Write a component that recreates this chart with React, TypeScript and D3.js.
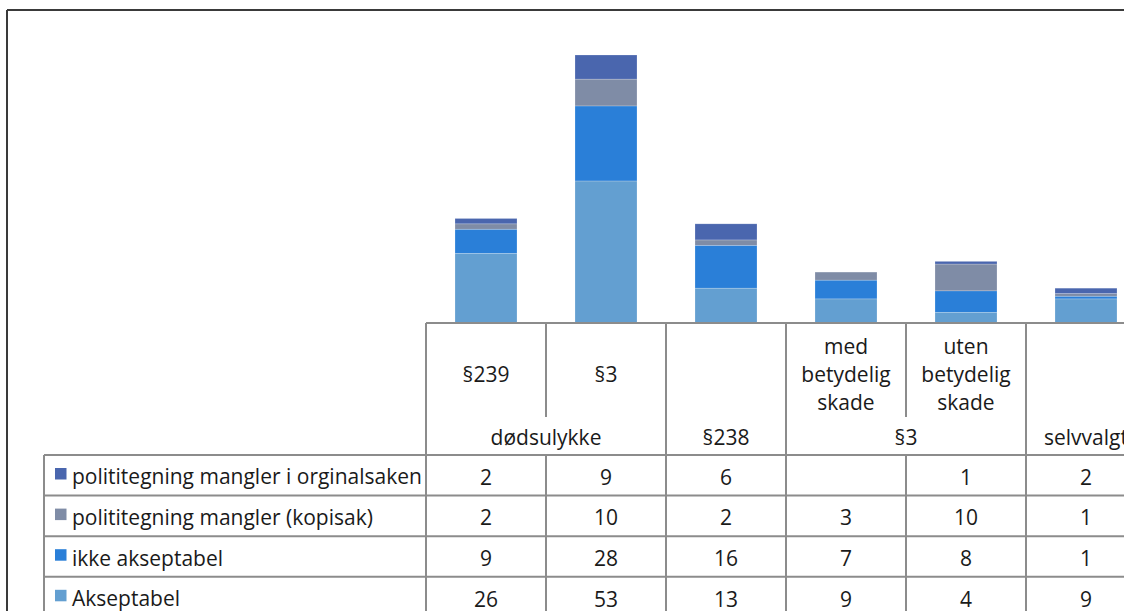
import React from "react";
import * as d3 from "d3";

const categories = ["§239", "§3 dødsulykke", "§238", "med betydelig skade", "uten betydelig skade", "selvvalgt"];
const subLabels: string[][] = [["§239"], ["§3"], [], ["med", "betydelig", "skade"], ["uten", "betydelig", "skade"], []];
const groupLabels = ["dødsulykke", "§238", "§3", "selvvalgt"];
const groupSpans = [2, 1, 2, 1];

const seriesNames = [
  "polititegning mangler i orginalsaken",
  "polititegning mangler (kopisak)",
  "ikke akseptabel",
  "Akseptabel",
];
const orginalsaken: (number | null)[] = [2, 9, 6, null, 1, 2];
const kopisak: (number | null)[] = [2, 10, 2, 3, 10, 1];
const ikkeAkseptabel: (number | null)[] = [9, 28, 16, 7, 8, 1];
const akseptabel: (number | null)[] = [26, 53, 13, 9, 4, 9];
const seriesColors = ["#4a66ae", "#7f8ca6", "#2a7fd8", "#639fd1"];

const W = 1124;
const H = 611;
const FONT = "'Open Sans', sans-serif";
const FS = 21;

export default function App() {
  const seriesValues = [orginalsaken, kopisak, ikkeAkseptabel, akseptabel];
  const keys = ["s0", "s1", "s2", "s3"];
  const rows = categories.map((c, i) => {
    const o: any = { cat: c };
    keys.forEach((k, j) => (o[k] = seriesValues[j][i] ?? 0));
    return o;
  });
  // stack bottom -> top: Akseptabel, ikke akseptabel, kopisak, orginalsaken
  const stackOrder = ["s3", "s2", "s1", "s0"];
  const stacked = d3.stack<any>().keys(stackOrder)(rows);

  const colX0 = 426;
  const colW = 120;
  const x = d3
    .scaleBand<string>()
    .domain(categories)
    .range([colX0, colX0 + colW * categories.length])
    .padding(0);
  const baseY = 323;
  const y = d3.scaleLinear().domain([0, 100]).range([baseY, 55]);
  const barW = 62;

  const headerBottom = 455;
  const subBottom = 417;
  const rowH = 40.6;
  const legendX0 = 44;
  const rightEdge = colX0 + colW * categories.length;
  const grid = "#8c8c8c";
  const gw = 2;

  const groupBounds: { x0: number; x1: number; label: string }[] = [];
  let idx = 0;
  groupLabels.forEach((g, gi) => {
    const x0 = x(categories[idx])!;
    const x1 = x(categories[idx + groupSpans[gi] - 1])! + x.bandwidth();
    groupBounds.push({ x0, x1, label: g });
    idx += groupSpans[gi];
  });

  return (
    <svg
      width={W}
      height={H}
      style={{ position: "absolute", left: 0, top: 0, overflow: "hidden", background: "#fff" }}
    >
      <rect x={0} y={0} width={W} height={H} fill="#fff" />
      <line x1={7} y1={10} x2={W + 10} y2={10} stroke="#3a3a3a" strokeWidth={2} />
      <line x1={7} y1={10} x2={7} y2={H + 10} stroke="#3a3a3a" strokeWidth={2} />

      {stacked.map((layer) => {
        const si = keys.indexOf(layer.key);
        return (
          <g key={layer.key}>
            {layer.map((d, i) => {
              const h = y(d[0]) - y(d[1]);
              if (h <= 0) return null;
              const cx = x(categories[i])! + x.bandwidth() / 2;
              return (
                <rect
                  key={i}
                  x={cx - barW / 2}
                  y={y(d[1])}
                  width={barW}
                  height={h}
                  fill={seriesColors[si]}
                  stroke="#ffffff"
                  strokeOpacity={0.35}
                  strokeWidth={0.6}
                />
              );
            })}
          </g>
        );
      })}

      <line x1={colX0} y1={baseY} x2={rightEdge} y2={baseY} stroke={grid} strokeWidth={gw} />
      {groupBounds.map((g, i) => (
        <line key={"gb" + i} x1={g.x0} y1={baseY} x2={g.x0} y2={headerBottom} stroke={grid} strokeWidth={gw} />
      ))}
      <line x1={rightEdge} y1={baseY} x2={rightEdge} y2={headerBottom} stroke={grid} strokeWidth={gw} />
      {categories.map((c, i) => {
        const xx = x(c)!;
        const isGroupStart = groupBounds.some((g) => Math.abs(g.x0 - xx) < 0.5);
        if (isGroupStart) return null;
        return <line key={"sd" + i} x1={xx} y1={baseY} x2={xx} y2={subBottom} stroke={grid} strokeWidth={gw} />;
      })}

      {subLabels.map((lines, i) => {
        const cx = x(categories[i])! + x.bandwidth() / 2;
        const lh = 28;
        const cy = 374;
        return lines.map((t, j) => (
          <text
            key={"sl" + i + "-" + j}
            x={cx}
            y={cy + (j - (lines.length - 1) / 2) * lh}
            textAnchor="middle"
            dominantBaseline="central"
            fontFamily={FONT}
            fontSize={FS}
            fill="#1a1a1a"
          >
            {t}
          </text>
        ));
      })}
      {groupBounds.map((g, i) => (
        <text
          key={"gl" + i}
          x={(g.x0 + g.x1) / 2}
          y={437}
          textAnchor="middle"
          dominantBaseline="central"
          fontFamily={FONT}
          fontSize={FS}
          fill="#1a1a1a"
        >
          {g.label}
        </text>
      ))}

      {seriesNames.map((name, r) => {
        const ry = headerBottom + r * rowH;
        return (
          <g key={"row" + r}>
            <line x1={legendX0} y1={ry} x2={rightEdge} y2={ry} stroke={grid} strokeWidth={gw} />
            <rect x={55} y={ry + 13} width={11.5} height={11.5} fill={seriesColors[r]} />
            <text
              x={72}
              y={ry + rowH / 2 + 1}
              dominantBaseline="central"
              fontFamily={FONT}
              fontSize={FS}
              fill="#1a1a1a"
            >
              {name}
            </text>
            {seriesValues[r].map((v, i) =>
              v == null ? null : (
                <text
                  key={"v" + i}
                  x={x(categories[i])! + x.bandwidth() / 2}
                  y={ry + rowH / 2 + 1.5}
                  textAnchor="middle"
                  dominantBaseline="central"
                  fontFamily={FONT}
                  fontSize={FS}
                  fill="#1a1a1a"
                >
                  {v}
                </text>
              )
            )}
          </g>
        );
      })}
      <line
        x1={legendX0}
        y1={headerBottom + seriesNames.length * rowH}
        x2={rightEdge}
        y2={headerBottom + seriesNames.length * rowH}
        stroke={grid}
        strokeWidth={gw}
      />
      {[legendX0, ...categories.map((c) => x(c)!), rightEdge].map((xx, i) => (
        <line
          key={"tv" + i}
          x1={xx}
          y1={headerBottom}
          x2={xx}
          y2={headerBottom + seriesNames.length * rowH}
          stroke={grid}
          strokeWidth={gw}
        />
      ))}
    </svg>
  );
}
